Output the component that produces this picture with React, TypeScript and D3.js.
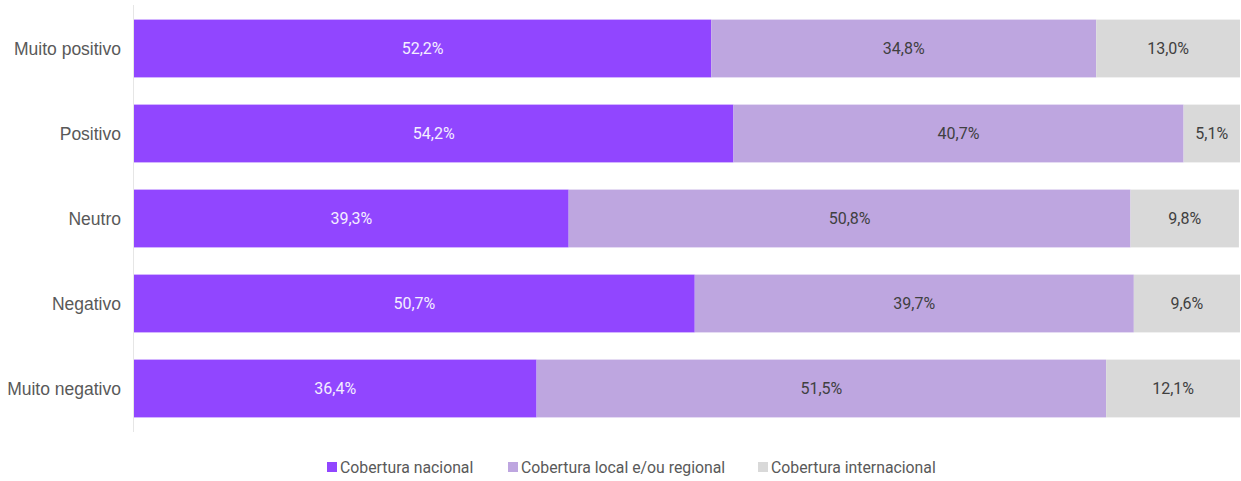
import React from "react";
import * as d3 from "d3";

const categories = ["Muito positivo", "Positivo", "Neutro", "Negativo", "Muito negativo"];
const seriesNames = ["Cobertura nacional", "Cobertura local e/ou regional", "Cobertura internacional"];
const nacional = [52.2, 54.2, 39.3, 50.7, 36.4];
const localRegional = [34.8, 40.7, 50.8, 39.7, 51.5];
const internacional = [13.0, 5.1, 9.8, 9.6, 12.1];

const colors = ["#9146FF", "#BEA6E0", "#D9D9D9"];
const textColors = ["#F4EEFF", "#404040", "#404040"];

const W = 1241;
const H = 481;

export default function App() {
  const keys = ["a", "b", "c"];
  const rows = categories.map((c, i) => ({ cat: c, a: nacional[i], b: localRegional[i], c: internacional[i] }));
  const stack = d3.stack<any>().keys(keys);
  const stacked = stack(rows);
  const x = d3.scaleLinear().domain([0, 100]).range([134, 1240]);
  const y = d3.scaleBand<string>().domain(categories).range([6, 431]).paddingInner(0.32).paddingOuter(0.16);
  const fmt = (v: number) => v.toFixed(1).replace(".", ",") + "%";

  const legendX = [327, 508, 758];

  return (
    <svg width={W} height={H} style={{ position: "absolute", left: 0, top: 0, background: "#fff" }}>
      <line x1={133.5} x2={133.5} y1={5} y2={432} stroke="#E6E6E6" strokeWidth={1} />
      {stacked.map((s, si) => (
        <g key={si}>
          {s.map((d, i) => {
            const x0 = x(d[0]);
            const x1 = x(d[1]);
            const yy = y(categories[i])!;
            const v = (d.data as any)[keys[si]];
            return (
              <g key={i}>
                <rect x={x0} y={yy} width={x1 - x0} height={y.bandwidth()} fill={colors[si]} />
                <text
                  x={(x0 + x1) / 2}
                  y={yy + y.bandwidth() / 2}
                  dy="0.35em"
                  textAnchor="middle"
                  fontFamily="Roboto, sans-serif"
                  fontSize={16}
                  fill={textColors[si]}
                >
                  {fmt(v)}
                </text>
              </g>
            );
          })}
        </g>
      ))}
      {categories.map((c) => (
        <text
          key={c}
          x={121}
          y={y(c)! + y.bandwidth() / 2}
          dy="0.35em"
          textAnchor="end"
          fontFamily="Liberation Sans, Arial, sans-serif"
          fontSize={17.5}
          fill="#595959"
        >
          {c}
        </text>
      ))}
      {seriesNames.map((n, i) => (
        <g key={n}>
          <rect x={legendX[i]} y={462} width={10} height={10} fill={colors[i]} />
          <text
            x={legendX[i] + 13}
            y={467}
            dy="0.35em"
            fontFamily="Roboto, sans-serif"
            fontSize={15.8}
            fill="#595959"
          >
            {n}
          </text>
        </g>
      ))}
    </svg>
  );
}
